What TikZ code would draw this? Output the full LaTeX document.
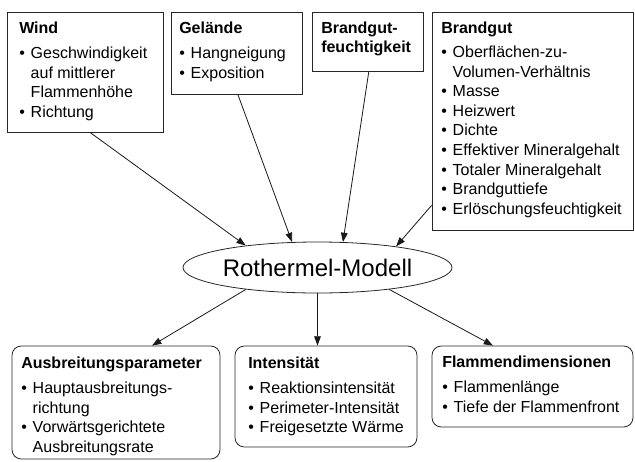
\documentclass[tikz,border=0pt]{standalone}
\usepackage{fontspec}
\setmainfont{Liberation Sans}
\usetikzlibrary{fit,shapes.geometric,arrows.meta}
\newcommand\bl{\makebox[8.6pt][l]{•}}
\newcommand\il{\hspace*{8.6pt}}
\newcommand\st{\rule{0pt}{10pt}}
\tikzset{
  box/.style={draw=black!85, line width=0.6pt, inner sep=0pt},
  rbox/.style={box, rounded corners=7pt},
  txt/.style={anchor=north west, inner sep=0pt, align=left, yshift=10pt,
    font=\fontsize{12}{14.7}\selectfont},
  arr/.style={-{Triangle[length=7pt,width=5pt]}, line width=0.6pt, draw=black!90},
}
\begin{document}
\begin{tikzpicture}[x=0.75pt,y=-0.75pt]
\useasboundingbox (0,0) rectangle (635,461);
% top boxes
\node[box, fit={(7,12) (163,132)}] (wind) {};
\node[box, fit={(171,12) (302,94)}] (gel) {};
\node[box, fit={(312,12) (423,71)}] (bgf) {};
\node[box, fit={(432,12) (633,230)}] (bg) {};
% bottom boxes
\node[rbox, fit={(12,346) (220,459)}] (ausb) {};
\node[rbox, fit={(235,346) (417,447)}] (int) {};
\node[rbox, fit={(432,346) (633,427)}] (flam) {};
% texts
\node[txt] (windt) at (19,33) {\textbf{\st Wind}\\[4.3pt]
\bl Geschwindigkeit\\
\il auf mittlerer\\
\il Flammenhöhe\\
\bl Richtung};
\node[txt] (gelt) at (179,33) {\textbf{\st Gelände}\\[4.3pt]
\bl Hangneigung\\
\bl Exposition};
\node[txt] (bgft) at (321,33) {\textbf{\st Brandgut-}\\[-0.5pt]
\textbf{feuchtigkeit}};
\node[txt] (bgt) at (441,33) {\textbf{\st Brandgut}\\[3.5pt]
\bl Oberflächen-zu-\\
\il Volumen-Verhältnis\\
\bl Masse\\
\bl Heizwert\\
\bl Dichte\\
\bl Effektiver Mineralgehalt\\
\bl Totaler Mineralgehalt\\
\bl Brandguttiefe\\
\bl Erlöschungsfeuchtigkeit};
\node[txt] (ausbt) at (21,368) {\textbf{\st Ausbreitungsparameter}\\[4.3pt]
\bl Hauptausbreitungs-\\
\il richtung\\
\bl Vorwärtsgerichtete\\
\il Ausbreitungsrate};
\node[txt] (intt) at (248,368) {\textbf{\st Intensität}\\[4.3pt]
\bl Reaktionsintensität\\
\bl Perimeter-Intensität\\
\bl Freigesetzte Wärme};
\node[txt] (flamt) at (442,367) {\textbf{\st Flammendimensionen}\\[4.3pt]
\bl Flammenlänge\\
\bl Tiefe der Flammenfront};
% central ellipse
\node[ellipse, draw=black!85, line width=0.6pt, inner sep=0pt,
  minimum width=201.75pt, minimum height=38.25pt,
  font=\fontsize{18}{20}\selectfont] (rm) at (317.5,267.5) {Rothermel-Modell};
% arrows
\draw[arr] ([xshift=3.75pt]wind.south) -- (rm.163);
\draw[arr] ([xshift=1pt]gel.south) -- (rm.135);
\draw[arr] ([xshift=1pt]bgf.south) -- (rm.45);
\draw[arr] ([yshift=18.75pt]bg.south west) -- (rm.15);
\draw[arr] (rm.197) -- ([xshift=27pt]ausb.north);
\draw[arr] (rm.south) -- (rm.south |- int.north);
\draw[arr] (rm.343) -- ([xshift=-29.6pt]flam.north);
\end{tikzpicture}
\end{document}
